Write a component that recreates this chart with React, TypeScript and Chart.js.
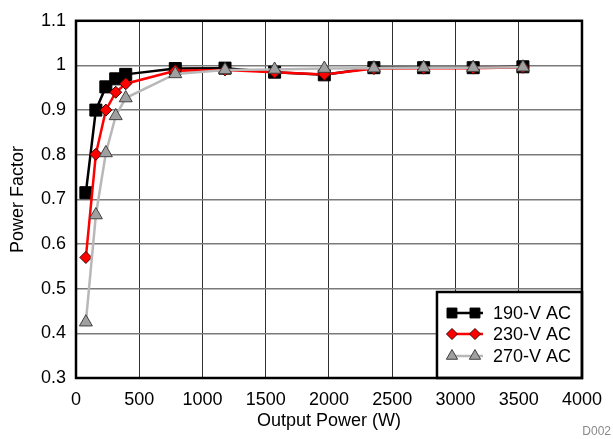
import React, { useEffect, useRef } from "react";
import { Chart, registerables } from "chart.js";

Chart.register(...registerables);

const outputPower = [78, 157, 236, 314, 393, 785, 1178, 1570, 1963, 2355, 2748, 3140, 3533];
const pf190 = [0.715, 0.9, 0.952, 0.97, 0.98, 0.993, 0.994, 0.985, 0.979, 0.995, 0.995, 0.995, 0.997];
const pf230 = [0.57, 0.801, 0.9, 0.94, 0.959, 0.988, 0.99, 0.985, 0.98, 0.993, 0.994, 0.994, 0.996];
const pf270 = [0.425, 0.665, 0.804, 0.887, 0.927, 0.981, 0.99, 0.991, 0.993, 0.994, 0.995, 0.995, 0.996];
const seriesNames = ["190-V AC", "230-V AC", "270-V AC"];
const xTickLabels = ["0", "500", "1000", "1500", "2000", "2500", "3000", "3500", "4000"];
const yTickLabels = ["0.3", "0.4", "0.5", "0.6", "0.7", "0.8", "0.9", "1", "1.1"];

const FONT = "'Liberation Sans', Arial, sans-serif";

const toPoints = (ys: number[]) => outputPower.map((x, i) => ({ x, y: ys[i] }));

const styles = [
  { line: "#000000", fill: "#000000", border: "#000000", shape: "rect", r: 8.5, lr: 7 },
  { line: "#ff0000", fill: "#ff0000", border: "#400000", shape: "rectRot", r: 6, lr: 5.5 },
  { line: "#b8b8b8", fill: "#a0a0a0", border: "#404040", shape: "triangle", r: 7.5, lr: 6.5 },
];

function drawMarker(ctx: CanvasRenderingContext2D, shape: string, r: number, x: number, y: number) {
  ctx.beginPath();
  if (shape === "rect") {
    const s = Math.SQRT1_2 * r;
    ctx.rect(x - s, y - s, 2 * s, 2 * s);
  } else if (shape === "rectRot") {
    ctx.moveTo(x, y - r);
    ctx.lineTo(x + r, y);
    ctx.lineTo(x, y + r);
    ctx.lineTo(x - r, y);
    ctx.closePath();
  } else {
    const w = r * Math.sin(Math.PI / 3);
    ctx.moveTo(x, y - r);
    ctx.lineTo(x + w, y + r / 2);
    ctx.lineTo(x - w, y + r / 2);
    ctx.closePath();
  }
  ctx.fill();
  ctx.stroke();
}

const frameAndLegend = {
  id: "frameAndLegend",
  afterDraw(chart: any) {
    const { ctx, chartArea } = chart;
    const { left, top, right, bottom } = chartArea;
    ctx.save();
    const bw = 145;
    const bh = 86;
    const bx = right - bw;
    const by = bottom - bh;
    ctx.fillStyle = "#ffffff";
    ctx.fillRect(bx, by, bw, bh);
    ctx.lineWidth = 2.5;
    ctx.strokeStyle = "#000000";
    ctx.strokeRect(bx, by, bw, bh);
    const rows = [21, 42, 64];
    seriesNames.forEach((name, i) => {
      const st = styles[i];
      const y = by + rows[i];
      ctx.beginPath();
      ctx.strokeStyle = st.line;
      ctx.lineWidth = 2.5;
      ctx.moveTo(bx + 11, y);
      ctx.lineTo(bx + 46, y);
      ctx.stroke();
      [bx + 15, bx + 38].forEach((mx) => {
        ctx.fillStyle = st.fill;
        ctx.strokeStyle = st.border;
        ctx.lineWidth = 1;
        drawMarker(ctx, st.shape, st.lr, mx, y);
      });
      ctx.fillStyle = "#000000";
      ctx.font = `18px ${FONT}`;
      ctx.textAlign = "left";
      ctx.textBaseline = "middle";
      ctx.fillText(name, bx + 56, y + 1);
    });
    ctx.lineWidth = 2.5;
    ctx.strokeStyle = "#000000";
    ctx.strokeRect(left, top, right - left, bottom - top);
    ctx.fillStyle = "#8a8a8a";
    ctx.font = `12px ${FONT}`;
    ctx.textAlign = "right";
    ctx.textBaseline = "alphabetic";
    ctx.fillText("D002", chart.width - 2, chart.height - 4);
    ctx.restore();
  },
};

export default function App() {
  const ref = useRef<HTMLCanvasElement>(null);
  useEffect(() => {
    if (!ref.current) return;
    const seriesData = [pf190, pf230, pf270];
    const chart = new Chart(ref.current, {
      type: "line",
      data: {
        datasets: seriesData.map((d, i) => ({
          label: seriesNames[i],
          data: toPoints(d),
          borderColor: styles[i].line,
          borderWidth: 2.5,
          backgroundColor: styles[i].fill,
          pointBackgroundColor: styles[i].fill,
          pointBorderColor: styles[i].border,
          pointBorderWidth: 1,
          pointStyle: styles[i].shape as any,
          pointRadius: styles[i].r,
          tension: 0,
          order: 3 - i,
        })),
      },
      options: {
        responsive: false,
        animation: false,
        events: [],
        layout: { padding: { top: 18, right: 27, left: 0, bottom: 0 } },
        plugins: { legend: { display: false }, tooltip: { enabled: false } },
        scales: {
          x: {
            type: "linear",
            min: 0,
            max: 4000,
            afterFit: (s: any) => {
              s.height = 61;
            },
            afterBuildTicks: (s: any) => {
              s.ticks = xTickLabels.map((_, i) => ({ value: i * 500 }));
            },
            ticks: {
              padding: 11,
              color: "#000",
              font: { family: FONT, size: 18 },
              callback: (_v: any, i: number) => xTickLabels[i],
              maxRotation: 0,
            },
            grid: { color: "#303030", lineWidth: 1, drawTicks: false },
            border: { display: false },
            title: {
              display: true,
              text: "Output Power (W)",
              color: "#000",
              font: { family: FONT, size: 18 },
              padding: { top: 0, bottom: 7 },
            },
          },
          y: {
            type: "linear",
            min: 0.3,
            max: 1.1,
            afterFit: (s: any) => {
              s.width = 76;
            },
            afterBuildTicks: (s: any) => {
              s.ticks = yTickLabels.map((_, i) => ({ value: 0.3 + i * 0.1 }));
            },
            ticks: {
              padding: 10,
              color: "#000",
              font: { family: FONT, size: 18 },
              callback: (_v: any, i: number) => yTickLabels[i],
            },
            grid: { color: "#7a7a7a", lineWidth: 1.5, drawTicks: false },
            border: { display: false },
            title: {
              display: true,
              text: "Power Factor",
              color: "#000",
              font: { family: FONT, size: 18 },
              padding: { top: 7, bottom: 0 },
            },
          },
        },
      },
      plugins: [frameAndLegend],
    });
    return () => chart.destroy();
  }, []);
  return (
    <div style={{ position: "absolute", left: 0, top: 0, width: 613, height: 439, background: "#fff" }}>
      <canvas ref={ref} width={613} height={439} style={{ display: "block" }} />
    </div>
  );
}
